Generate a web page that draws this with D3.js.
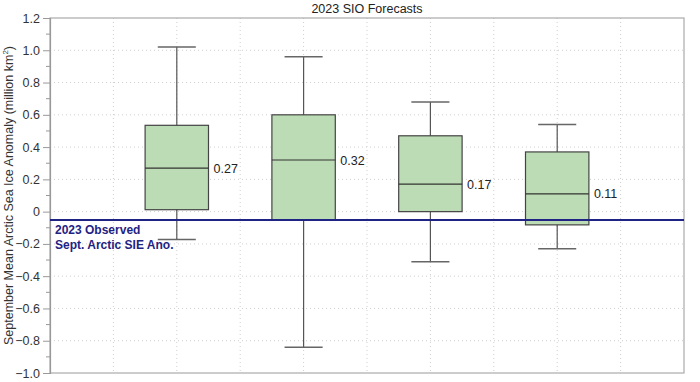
<!DOCTYPE html>
<html><head><meta charset="utf-8">
<script src="https://cdn.jsdelivr.net/npm/d3@7"></script>
<style>body{margin:0;background:#fff;}svg{display:block;font-family:"Liberation Sans",Arial,sans-serif;}</style>
</head><body><svg id="c" width="700" height="382"></svg>
<script>
const positions = [2, 4, 6, 8];
const whiskerHigh = [1.02, 0.96, 0.68, 0.54];
const q3 = [0.535, 0.60, 0.47, 0.37];
const medians = [0.27, 0.32, 0.17, 0.11];
const q1 = [0.012, -0.05, 0.0, -0.082];
const whiskerLow = [-0.172, -0.84, -0.31, -0.23];
const observed = -0.052;
const yTicks = [1.2, 1.0, 0.8, 0.6, 0.4, 0.2, 0, -0.2, -0.4, -0.6, -0.8, -1.0];
const xGrid = [1, 2, 3, 4, 5, 6, 7, 8, 9];

const svg = d3.select("#c");
const L = 50, R = 684, T = 18, B = 373;
const x = d3.scaleLinear().domain([0, 10]).range([L, R]);
const y = d3.scaleLinear().domain([-1.0, 1.2]).range([B, T]);

// gridlines
svg.append("g").selectAll("line").data(yTicks.filter(d => d > -1 && d < 1.2)).join("line")
  .attr("x1", L).attr("x2", R).attr("y1", d => y(d)).attr("y2", d => y(d))
  .attr("stroke", "#cfcfcf").attr("stroke-width", 1).attr("stroke-dasharray", "1,3");
svg.append("g").selectAll("line").data(xGrid).join("line")
  .attr("x1", d => x(d)).attr("x2", d => x(d)).attr("y1", T).attr("y2", B)
  .attr("stroke", "#cfcfcf").attr("stroke-width", 1).attr("stroke-dasharray", "1,3");

// frame
svg.append("rect").attr("x", L).attr("y", T).attr("width", R - L).attr("height", B - T)
  .attr("fill", "none").attr("stroke", "#aaaaaa").attr("stroke-width", 1.2);

// y axis
const fmt = d => d === 0 ? "0" : d3.format(".1f")(d).replace("-", "\u2212");
const yAxis = d3.axisLeft(y).tickValues(yTicks).tickFormat(fmt).tickSize(7).tickPadding(3);
const ga = svg.append("g").attr("transform", `translate(${L},0)`).call(yAxis);
ga.select(".domain").attr("stroke", "#999").attr("stroke-width", 1.2);
ga.selectAll(".tick line").attr("stroke", "#999");
ga.selectAll("text").attr("font-size", 12.5).attr("fill", "#333");
const minor = d3.range(-9, 12, 2).map(v => v / 10);
svg.append("g").selectAll("line").data(minor).join("line")
  .attr("x1", L - 4).attr("x2", L).attr("y1", d => y(d)).attr("y2", d => y(d))
  .attr("stroke", "#999");

// y label
const yl = svg.append("text").attr("transform", `translate(13,${(T + B) / 2}) rotate(-90)`)
  .attr("text-anchor", "middle").attr("font-size", 12.5).attr("fill", "#333");
yl.append("tspan").text("September Mean Arctic Sea Ice Anomaly (million km");
yl.append("tspan").text("2").attr("font-size", 8).attr("dy", -5);
yl.append("tspan").text(")").attr("dy", 5);

// title
svg.append("text").attr("x", (L + R) / 2).attr("y", 13).attr("text-anchor", "middle")
  .attr("font-size", 12.5).attr("fill", "#222").text("2023 SIO Forecasts");

// boxes
const data = positions.map((p, i) => ({p, hi: whiskerHigh[i], q3: q3[i], med: medians[i], q1: q1[i], lo: whiskerLow[i]}));
const bw = x(0.5) - x(0), cw = x(0.3) - x(0);
const g = svg.append("g").selectAll("g").data(data).join("g");
g.append("line").attr("x1", d => x(d.p)).attr("x2", d => x(d.p)).attr("y1", d => y(d.hi)).attr("y2", d => y(d.lo))
  .attr("stroke", "#555").attr("stroke-width", 1.2);
g.append("line").attr("x1", d => x(d.p) - cw).attr("x2", d => x(d.p) + cw).attr("y1", d => y(d.hi)).attr("y2", d => y(d.hi))
  .attr("stroke", "#666").attr("stroke-width", 1.5);
g.append("line").attr("x1", d => x(d.p) - cw).attr("x2", d => x(d.p) + cw).attr("y1", d => y(d.lo)).attr("y2", d => y(d.lo))
  .attr("stroke", "#666").attr("stroke-width", 1.5);
g.append("rect").attr("x", d => x(d.p) - bw).attr("width", 2 * bw)
  .attr("y", d => y(d.q3)).attr("height", d => y(d.q1) - y(d.q3))
  .attr("fill", "#bcdcb5").attr("stroke", "#444").attr("stroke-width", 1.2);
g.append("line").attr("x1", d => x(d.p) - bw).attr("x2", d => x(d.p) + bw).attr("y1", d => y(d.med)).attr("y2", d => y(d.med))
  .attr("stroke", "#333").attr("stroke-width", 1.2);
g.append("text").attr("x", d => x(d.p) + bw + 5).attr("y", d => y(d.med) + 4.5)
  .attr("font-size", 12.5).attr("fill", "#222").text(d => d3.format(".2f")(d.med));

// observed line
svg.append("line").attr("x1", L).attr("x2", R).attr("y1", y(observed)).attr("y2", y(observed))
  .attr("stroke", "#1f2383").attr("stroke-width", 2);
svg.append("text").attr("x", 55).attr("y", y(observed) + 14).attr("font-size", 12).attr("font-weight", "bold")
  .attr("fill", "#1f2383").text("2023 Observed");
svg.append("text").attr("x", 55).attr("y", y(observed) + 28.5).attr("font-size", 12).attr("font-weight", "bold")
  .attr("fill", "#1f2383").text("Sept. Arctic SIE Ano.");
</script></body></html>
